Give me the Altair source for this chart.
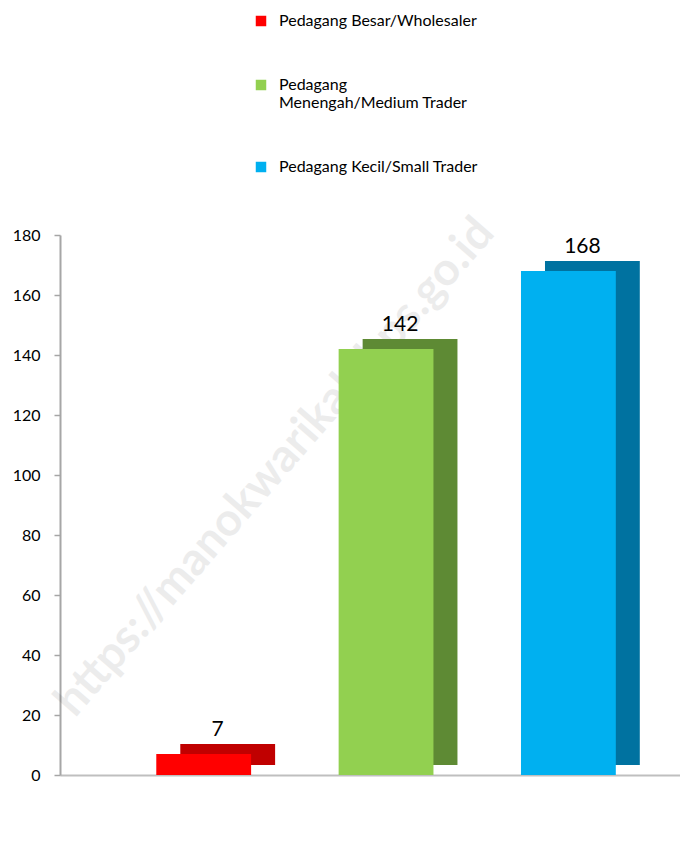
import altair as alt
import pandas as pd

categories = ["Pedagang Besar/Wholesaler", "Pedagang Menengah/Medium Trader", "Pedagang Kecil/Small Trader"]
values = [7, 142, 168]
front_colors = ["#FF0000", "#92D050", "#00B0F0"]
side_colors = ["#C00000", "#5E8A34", "#0072A0"]
y_ticks = [0, 20, 40, 60, 80, 100, 120, 140, 160, 180]
watermark = "https://manokwarikab.bps.go.id"

df = pd.DataFrame({"cat": categories, "val": values, "side": side_colors})

xenc = alt.X("cat:N", sort=categories,
             scale=alt.Scale(paddingInner=0.48, paddingOuter=0.44, align=0.6),
             axis=alt.Axis(title=None, labels=False, ticks=False, domain=True,
                           domainColor="#bfbfbf", domainWidth=2))
yscale = alt.Scale(domain=[0, 180], nice=False)

base = alt.Chart(df)

wm = alt.Chart(pd.DataFrame({"t": [watermark]})).mark_text(
    angle=311, fontSize=46, fontWeight="bold", font="Lato", color="#000000",
    opacity=0.07, align="center", baseline="middle"
).encode(text="t:N", x=alt.value(215), y=alt.value(232))

side = base.mark_bar(xOffset=24, yOffset=-10).encode(
    x=xenc,
    y=alt.Y("val:Q", scale=yscale),
    color=alt.Color("side:N", scale=None),
)

front = base.mark_bar().encode(
    x=xenc,
    y=alt.Y("val:Q", scale=yscale,
            axis=alt.Axis(title=None, values=y_ticks, grid=False, domainColor="#a6a6a6",
                          domainWidth=2, tickColor="#a6a6a6", tickWidth=1.5, tickSize=6,
                          labelFontSize=16, labelColor="#000000", labelFont="Lato",
                          labelPadding=14)),
    color=alt.Color("cat:N", sort=categories,
                    scale=alt.Scale(domain=categories, range=front_colors),
                    legend=alt.Legend(title=None, orient="none", legendX=193, legendY=-222,
                                      symbolType="square", symbolSize=110,
                                      symbolStrokeWidth=0, labelFontSize=16,
                                      labelFont="Lato", labelColor="#000000",
                                      labelOffset=10,
                                      rowPadding=48, labelLimit=400,
                                      labelExpr="datum.label == 'Pedagang Menengah/Medium Trader' ? ['Pedagang', 'Menengah/Medium Trader'] : datum.label")),
)

labels = base.mark_text(baseline="bottom", dx=14, dy=-14, fontSize=21, font="Lato",
                        color="#000000").encode(
    x=xenc, y=alt.Y("val:Q", scale=yscale), text="val:Q")

chart = alt.layer(wm, side, front, labels).properties(
    width=620, height=540,
    autosize=alt.AutoSizeParams(type="none"),
    padding={"left": 52, "top": 227, "right": 0, "bottom": 50},
).configure_view(stroke=None)

chart.save("out.html", embed_options={"renderer": "svg", "actions": False})
